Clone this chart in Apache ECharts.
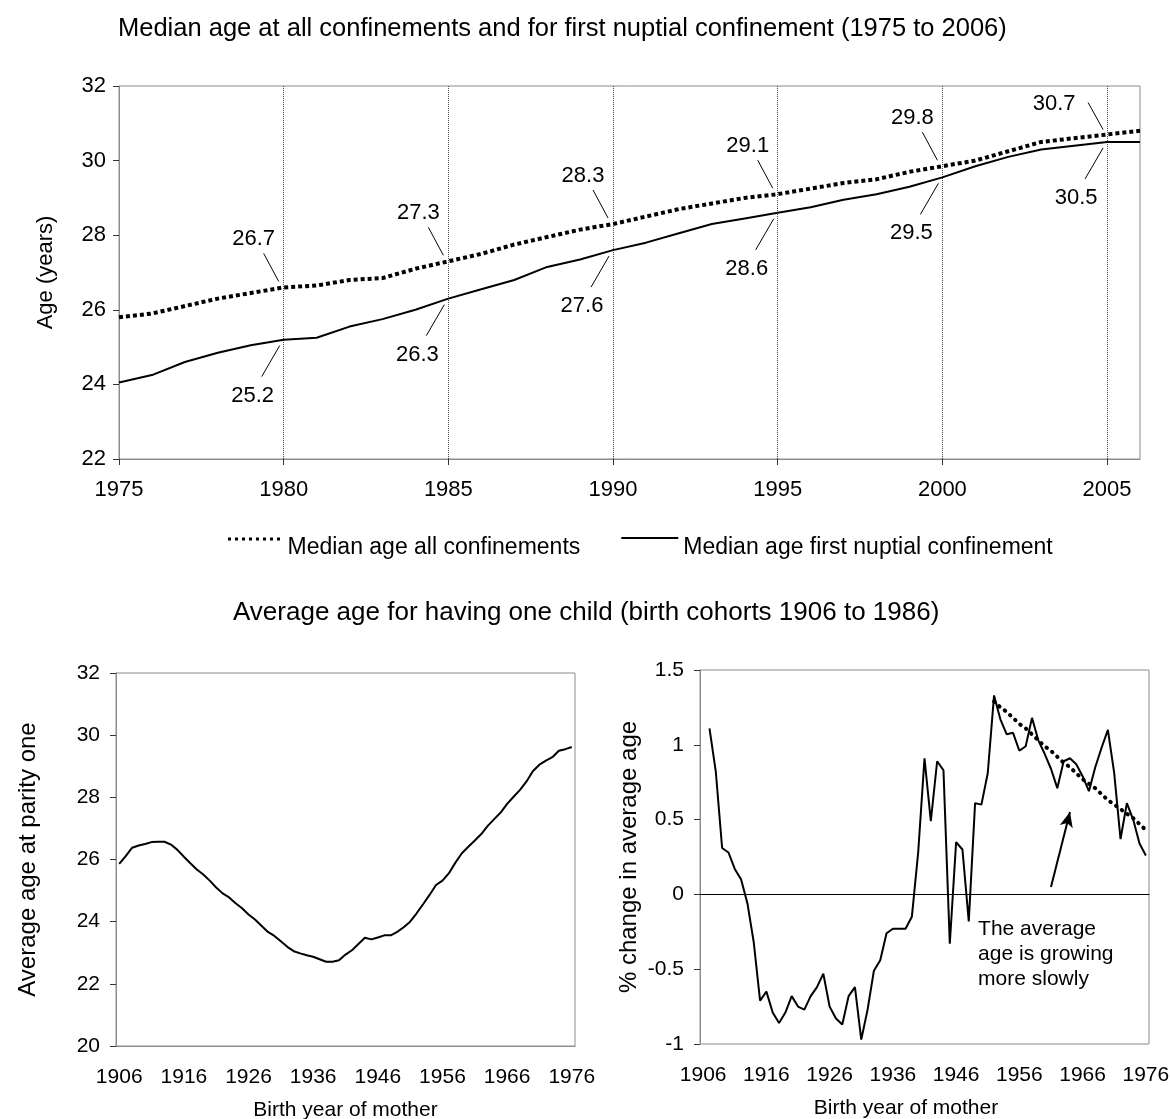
<!DOCTYPE html>
<html>
<head>
<meta charset="utf-8">
<title>Median age at confinement</title>
<script src="https://cdn.jsdelivr.net/npm/echarts@6/dist/echarts.min.js"></script>
<style>
html, body { margin: 0; padding: 0; background: #fff; }
#chart { width: 1170px; height: 1119px; }
</style>
</head>
<body>
<div id="chart"></div>
<script>
// ---- top chart: median age 1975-2006 ----
var years = [];
for (var y = 1975; y <= 2006; y++) years.push(String(y));
var allConfinements = [25.8, 25.9, 26.1, 26.3, 26.45, 26.6, 26.65, 26.8, 26.85, 27.1, 27.3,
  27.5, 27.75, 27.95, 28.15, 28.3, 28.5, 28.7, 28.85, 29.0, 29.1, 29.25, 29.4, 29.5, 29.7,
  29.85, 30.0, 30.25, 30.5, 30.6, 30.7, 30.8];
var firstNuptial = [24.05, 24.25, 24.6, 24.85, 25.05, 25.2, 25.25, 25.55, 25.75, 26.0, 26.3,
  26.55, 26.8, 27.15, 27.35, 27.6, 27.8, 28.05, 28.3, 28.45, 28.6, 28.75, 28.95, 29.1, 29.3,
  29.55, 29.85, 30.1, 30.3, 30.4, 30.5, 30.5];
// value labels written on the lines (year, which line, text)
var topNotes = [
  ['1980', 'all', '26.7'], ['1985', 'all', '27.3'], ['1990', 'all', '28.3'],
  ['1995', 'all', '29.1'], ['2000', 'all', '29.8'], ['2005', 'all', '30.7'],
  ['1980', 'first', '25.2'], ['1985', 'first', '26.3'], ['1990', 'first', '27.6'],
  ['1995', 'first', '28.6'], ['2000', 'first', '29.5'], ['2005', 'first', '30.5']
];

// ---- bottom charts: birth cohorts 1906-1976 ----
var cohortYears = [];
for (var c = 1906; c <= 1976; c++) cohortYears.push(String(c));
var ageParityOne = [25.86, 26.11, 26.38, 26.45, 26.5, 26.56, 26.57, 26.57, 26.48, 26.31,
  26.09, 25.88, 25.68, 25.52, 25.32, 25.1, 24.91, 24.78, 24.59, 24.43,
  24.23, 24.07, 23.87, 23.67, 23.54, 23.37, 23.19, 23.05, 22.98, 22.92,
  22.87, 22.79, 22.71, 22.71, 22.76, 22.94, 23.08, 23.28, 23.48, 23.43,
  23.49, 23.56, 23.56, 23.67, 23.82, 24.0, 24.27, 24.56, 24.86, 25.18,
  25.32, 25.56, 25.9, 26.2, 26.41, 26.61, 26.82, 27.08, 27.3, 27.51,
  27.79, 28.02, 28.24, 28.51, 28.85, 29.05, 29.18, 29.29, 29.5, 29.55, 29.62];
var pctChange = [null, 1.11, 0.82, 0.31, 0.28, 0.17, 0.10, -0.06, -0.32, -0.71,
  -0.65, -0.79, -0.86, -0.79, -0.68, -0.75, -0.77, -0.68, -0.62, -0.53,
  -0.75, -0.83, -0.87, -0.68, -0.62, -0.97, -0.77, -0.51, -0.44, -0.26,
  -0.23, -0.23, -0.23, -0.15, 0.28, 0.91, 0.49, 0.89, 0.83, -0.33,
  0.35, 0.30, -0.18, 0.61, 0.60, 0.81, 1.33, 1.17, 1.07, 1.08,
  0.96, 0.99, 1.18, 1.03, 0.94, 0.84, 0.71, 0.89, 0.91, 0.87,
  0.79, 0.69, 0.85, 0.98, 1.10, 0.81, 0.37, 0.61, 0.50, 0.34, 0.26];
var trendFrom = '1952';
var trendValues = [1.29, 1.25, 1.22, 1.18, 1.14, 1.11, 1.07, 1.03, 0.99, 0.96, 0.92, 0.88,
  0.85, 0.81, 0.77, 0.74, 0.71, 0.67, 0.63, 0.60, 0.57, 0.54, 0.51, 0.47, 0.43];
var arrowFrom = ['1961', 0.05];
var arrowTo = ['1964', 0.55];
var noteText = 'The average\nage is growing\nmore slowly';
var noteAnchor = ['1949', -0.15];

// label placement around a point, in pixels
var noteLayout = {
  above: { text: [-30, -48], from: [-20, -34], to: [-5, -6] },
  aboveLeft: { text: [-53, -31], from: [-19, -32], to: [-4, -5] },
  below: { text: [-31, 56], from: [-22, 37], to: [-4, 6] },
  note: [3, 0]
};

function fontAvailable (name) {
  var ctx = document.createElement('canvas').getContext('2d');
  var s = 'Birth year of mother 1906';
  ctx.font = '40px monospace';
  var w0 = ctx.measureText(s).width;
  ctx.font = '40px "' + name + '", monospace';
  return ctx.measureText(s).width !== w0;
}

var FONT = '"Liberation Sans", Arial, sans-serif';
var NARROW = fontAvailable('Liberation Sans Narrow');
var LOW_FONT = NARROW ? '"Liberation Sans Narrow", "Liberation Sans", sans-serif' : FONT;
var LOW_SIZE = NARROW ? 25 : 21;

var gray = '#8c8c8c';

// legend swatches sit near the top of the text, like the original
var EDGE = 'M0,0h0.01v0.01h-0.01z M0,22h0.01v0.01h-0.01z ';
var solidIcon = 'path://' + EDGE + 'M0,0.5h57v2h-57z';
var dottedIcon = 'path://' + EDGE + [0, 7, 14, 21, 28, 35, 42, 49].map(function (x) {
  return 'M' + x + ',1h3v3h-3z';
}).join(' ');

var myChart = echarts.init(document.getElementById('chart'), null, { renderer: 'canvas' });

function trendData () {
  var start = cohortYears.indexOf(trendFrom);
  return trendValues.map(function (v, i) { return [cohortYears[start + i], v]; });
}

var option = {
  animation: false,
  backgroundColor: '#fff',
  textStyle: { fontFamily: FONT, color: '#000' },
  title: [
    {
      text: 'Median age at all confinements and for first nuptial confinement (1975 to 2006)',
      left: 113, top: 11, padding: 5,
      textStyle: { fontFamily: FONT, fontSize: 25.5, fontWeight: 'normal', color: '#000' }
    },
    {
      text: 'Average age for having one child (birth cohorts 1906 to 1986)',
      left: 228, top: 595, padding: 5,
      textStyle: { fontFamily: FONT, fontSize: 26, fontWeight: 'normal', color: '#000' }
    }
  ],
  legend: {
    left: 223, top: 531,
    itemWidth: 57, itemHeight: 22, itemGap: 41,
    itemStyle: { borderWidth: 0 },
    textStyle: { fontFamily: FONT, fontSize: 23, color: '#000' },
    data: [
      { name: 'Median age all confinements', icon: dottedIcon, itemStyle: { color: '#000', borderWidth: 0 } },
      { name: 'Median age first nuptial confinement', icon: solidIcon, itemStyle: { color: '#000', borderWidth: 0 } }
    ]
  },
  grid: [
    { left: 119, top: 86, width: 1021, height: 373, show: true, borderColor: gray, borderWidth: 1, outerBoundsMode: 'none' },
    { left: 116, top: 673, width: 459, height: 373, show: true, borderColor: gray, borderWidth: 1, outerBoundsMode: 'none' },
    { left: 700, top: 670, width: 449, height: 374, show: true, borderColor: gray, borderWidth: 1, outerBoundsMode: 'none' }
  ],
  xAxis: [
    {
      gridIndex: 0, type: 'category', boundaryGap: false, data: years,
      axisLine: { lineStyle: { color: gray } },
      axisTick: { interval: 4, length: 6, lineStyle: { color: '#333' } },
      axisLabel: { interval: 4, fontSize: 22, margin: 20, color: '#000', fontFamily: FONT },
      splitLine: { show: true, interval: 4, lineStyle: { type: 'dotted', color: '#444', width: 1 } }
    },
    {
      gridIndex: 1, type: 'category', boundaryGap: true, data: cohortYears,
      name: 'Birth year of mother', nameLocation: 'middle', nameGap: 54,
      nameTextStyle: { fontFamily: LOW_FONT, fontSize: LOW_SIZE, color: '#000' },
      axisLine: { lineStyle: { color: gray } },
      axisTick: { interval: 9, length: 6, lineStyle: { color: '#333' } },
      axisLabel: { interval: 9, fontSize: LOW_SIZE, fontFamily: LOW_FONT, margin: 21, color: '#000' },
      splitLine: { show: false }
    },
    {
      // zero line with ticks
      gridIndex: 2, type: 'category', boundaryGap: true, data: cohortYears, position: 'bottom',
      axisLine: { onZero: true, lineStyle: { color: '#000' } },
      axisTick: { interval: 9, length: 6, lineStyle: { color: '#000' } },
      axisLabel: { show: false },
      splitLine: { show: false }
    },
    {
      // labels along the bottom edge
      gridIndex: 2, type: 'category', boundaryGap: true, data: cohortYears, position: 'bottom',
      name: 'Birth year of mother', nameLocation: 'middle', nameGap: 54,
      nameTextStyle: { fontFamily: LOW_FONT, fontSize: LOW_SIZE, color: '#000', padding: [0, 37, 0, 0] },
      axisLine: { show: false, onZero: false },
      axisTick: { show: false },
      axisLabel: { interval: 9, fontSize: LOW_SIZE, fontFamily: LOW_FONT, margin: 21, color: '#000' },
      splitLine: { show: false }
    }
  ],
  yAxis: [
    {
      gridIndex: 0, type: 'value', min: 22, max: 32, interval: 2,
      name: 'Age (years)', nameLocation: 'middle', nameGap: 62,
      nameTextStyle: { fontFamily: FONT, fontSize: 22, color: '#000' },
      axisLine: { show: true, lineStyle: { color: gray } },
      axisTick: { show: true, length: 6, lineStyle: { color: '#333' } },
      axisLabel: { fontSize: 22, margin: 13, color: '#000', fontFamily: FONT },
      splitLine: { show: false }
    },
    {
      gridIndex: 1, type: 'value', min: 20, max: 32, interval: 2,
      name: 'Average age at parity one', nameLocation: 'middle', nameGap: 76,
      nameTextStyle: { fontFamily: FONT, fontSize: 24, color: '#000' },
      axisLine: { show: true, lineStyle: { color: gray } },
      axisTick: { show: true, length: 6, lineStyle: { color: '#333' } },
      axisLabel: { fontSize: LOW_SIZE, fontFamily: LOW_FONT, margin: 16, color: '#000' },
      splitLine: { show: false }
    },
    {
      gridIndex: 2, type: 'value', min: -1, max: 1.5, interval: 0.5,
      name: '% change in average age', nameLocation: 'middle', nameGap: 59,
      nameTextStyle: { fontFamily: FONT, fontSize: 24, color: '#000' },
      axisLine: { show: true, lineStyle: { color: gray } },
      axisTick: { show: true, length: 6, lineStyle: { color: '#333' } },
      axisLabel: { fontSize: LOW_SIZE, fontFamily: LOW_FONT, margin: 16, color: '#000' },
      splitLine: { show: false }
    }
  ],
  series: [
    {
      name: 'Median age all confinements', type: 'line', xAxisIndex: 0, yAxisIndex: 0,
      data: allConfinements, symbol: 'none', z: 4,
      itemStyle: { color: '#000' },
      lineStyle: { color: '#000', width: 4, type: [4, 3], cap: 'butt' }
    },
    {
      name: 'Median age first nuptial confinement', type: 'line', xAxisIndex: 0, yAxisIndex: 0,
      data: firstNuptial, symbol: 'none', z: 3,
      itemStyle: { color: '#000' },
      lineStyle: { color: '#000', width: 2 }
    },
    {
      name: 'Average age at parity one', type: 'line', xAxisIndex: 1, yAxisIndex: 1,
      data: ageParityOne, symbol: 'none',
      itemStyle: { color: '#000' },
      lineStyle: { color: '#000', width: 2 }
    },
    {
      name: '% change', type: 'line', xAxisIndex: 2, yAxisIndex: 2,
      data: pctChange, symbol: 'none', connectNulls: false,
      itemStyle: { color: '#000' },
      lineStyle: { color: '#000', width: 2 },
      markLine: {
        silent: true, symbol: ['none', 'arrow'], symbolSize: [10, 15],
        label: { show: false },
        lineStyle: { color: '#000', width: 2, type: 'solid' },
        data: [[{ coord: arrowFrom }, { coord: arrowTo }]]
      }
    },
    {
      name: 'trend', type: 'line', xAxisIndex: 2, yAxisIndex: 2,
      data: trendData(), symbol: 'none', z: 4,
      itemStyle: { color: '#000' },
      lineStyle: { color: '#000', width: 4, type: [0.5, 6.5], cap: 'round' }
    }
  ]
};

myChart.setOption(option);

// value labels with leader lines on the top chart, plus the note on the right chart
function buildGraphics () {
  var els = [];
  topNotes.forEach(function (n) {
    var idx = years.indexOf(n[0]);
    var val = n[1] === 'all' ? allConfinements[idx] : firstNuptial[idx];
    var p = myChart.convertToPixel({ xAxisIndex: 0, yAxisIndex: 0 }, [idx, val]);
    var lay = n[1] === 'first' ? noteLayout.below : (n[0] === '2005' ? noteLayout.aboveLeft : noteLayout.above);
    els.push({
      type: 'line', silent: true, z: 10,
      shape: { x1: p[0] + lay.from[0], y1: p[1] + lay.from[1], x2: p[0] + lay.to[0], y2: p[1] + lay.to[1] },
      style: { stroke: '#000', lineWidth: 1 }
    });
    els.push({
      type: 'text', silent: true, z: 10,
      x: p[0] + lay.text[0], y: p[1] + lay.text[1],
      style: { text: n[2], fill: '#000', font: '22px ' + FONT, align: 'center', verticalAlign: 'middle' }
    });
  });
  var a = myChart.convertToPixel({ xAxisIndex: 2, yAxisIndex: 2 }, [cohortYears.indexOf(noteAnchor[0]), noteAnchor[1]]);
  els.push({
    type: 'text', silent: true, z: 10,
    x: a[0] + noteLayout.note[0], y: a[1] + noteLayout.note[1],
    style: { text: noteText, fill: '#000', font: LOW_SIZE + 'px ' + LOW_FONT, lineHeight: 25, align: 'left', verticalAlign: 'top' }
  });
  return els;
}

myChart.setOption({ graphic: buildGraphics() });
</script>
</body>
</html>
